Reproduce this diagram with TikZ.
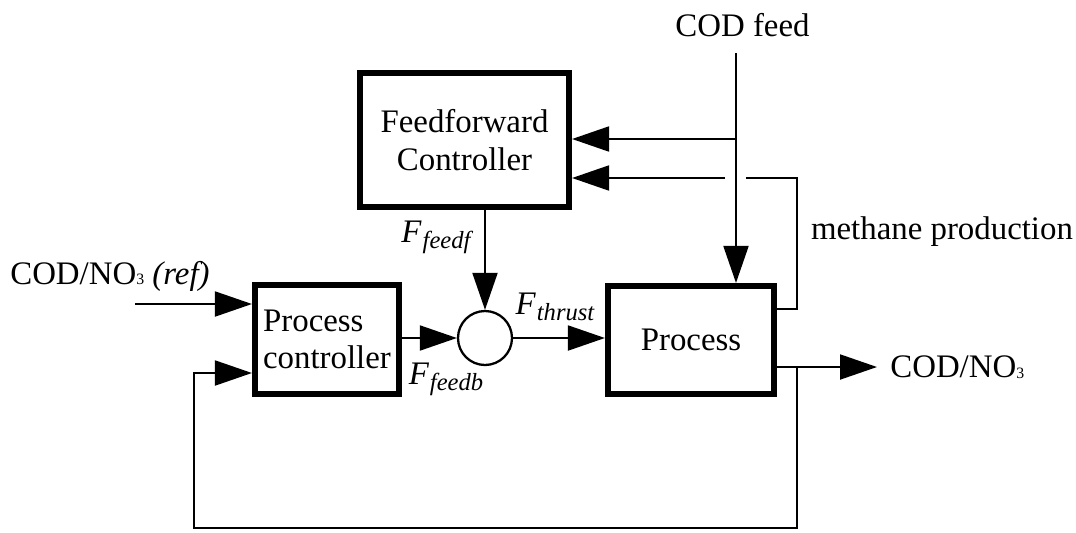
\documentclass[tikz,border=0pt]{standalone}
\usepackage{fontspec}
\setmainfont{Liberation Serif}
\usepackage{tikz}
\usetikzlibrary{positioning}
\usetikzlibrary{calc}
\usetikzlibrary{arrows.meta}

\newcommand{\sigF}[1]{\textit{F}\kern0.5pt\raisebox{-3.5pt}{\fontsize{14}{14}\selectfont\itshape #1}}
\newcommand{\nothree}{NO\raisebox{-0.5pt}{\fontsize{9}{9}\selectfont 3}}

\begin{document}
\begin{tikzpicture}[
  font=\fontsize{18.7}{21.5}\selectfont, >={Triangle[length=7.4mm,width=5mm]},
  blk/.style={rectangle, draw, line width=3.2pt, inner sep=0pt},
  sumpt/.style={circle, draw, line width=1.3pt, minimum size=10.8mm, inner sep=0pt},
  sig/.style={line width=1.1pt},
  lbl/.style={inner sep=0pt}
]
\useasboundingbox (0,0) rectangle (21.52,-10.64);

% blocks
\node[blk, minimum width=4.19cm, minimum height=2.69cm, align=center] (FF) at (9.29,-2.8) {Feedforward\\Controller};
\node[blk, minimum width=2.89cm, minimum height=2.19cm, align=left] (PC) at (6.54,-6.79) {Process\\controller};
\node[blk, minimum width=3.33cm, minimum height=2.17cm] (PR) at (13.82,-6.8) {Process};
\node[sumpt] (SUM) at (9.7,-6.76) {};

% texts
\node[lbl] (codfeed) at (14.85,-0.5) {COD feed};
\node[lbl, anchor=west] (refin_label) at (0.2,-5.52) {COD/\nothree\ \textit{(ref)}};
\node[lbl, anchor=west] (out_label) at (17.8,-7.34) {COD/\nothree};
\node[lbl] (methane_label) at (18.84,-4.64) {methane production};
\node[lbl] (ffeedf_label) at (8.72,-4.75) {\sigF{feedf}};
\node[lbl] (ffeedb_label) at (8.92,-7.58) {\sigF{feedb}};
\node[lbl] (fthrust_label) at (11.1,-6.14) {\sigF{thrust}};

% junctions and free ends
\coordinate (codtop) at (14.72,-1.06);
\coordinate (codbranch) at (14.72,-2.78);
\coordinate (gapL) at (14.5,-3.56);
\coordinate (gapR) at (14.92,-3.56);
\coordinate (methR) at (15.94,-3.56);
\coordinate (fbR) at (15.94,-7.34);
\coordinate (fbB) at (3.88,-10.56);
\coordinate (refin) at (2.7,-6.08);
\coordinate (outtip) at (17.54,-7.34);

% feed and methane to feedforward
\draw[sig, ->] (codtop) -- (codtop |- PR.north);
\draw[sig, ->] (codbranch) -- (codbranch -| FF.east);
\draw[sig] ([yshift=6.2mm]PR.east) -| (methR) -- (gapR);
\draw[sig, ->] (gapL) -- (gapL -| FF.east);

% main loop
\draw[sig, ->] (FF.south -| SUM.north) -- (SUM.north);
\draw[sig, ->] (refin) -- (refin -| PC.west);
\draw[sig, ->] (PC.east |- SUM.west) -- (SUM.west);
\draw[sig, ->] (SUM.east) -- (SUM.east -| PR.west);
\draw[sig, ->] (PR.east |- fbR) -- (outtip);
\draw[sig, ->] (fbR) |- (fbB) |- ([yshift=-6.7mm]PC.west);

\end{tikzpicture}
\end{document}
